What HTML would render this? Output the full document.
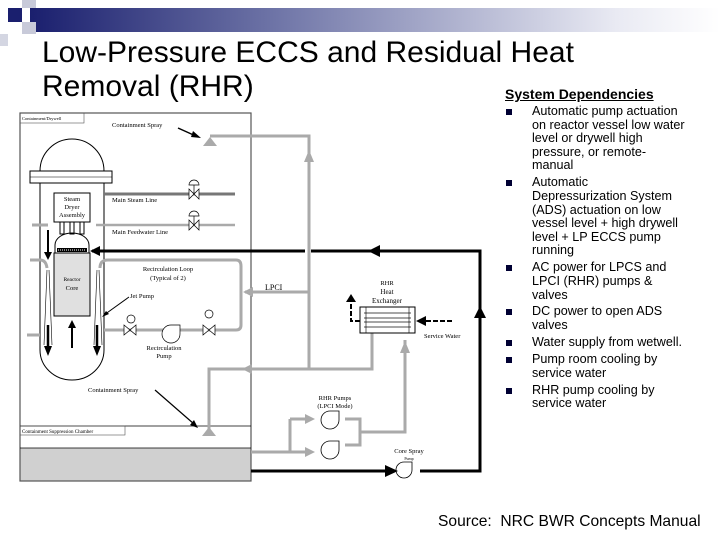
<!DOCTYPE html><html><head><style>
body{margin:0;width:720px;height:540px;background:#fff;position:relative;overflow:hidden;font-family:"Liberation Sans",sans-serif}
.t{position:absolute;left:42px;font-size:30px;color:#000;line-height:34px;white-space:nowrap}
ul{position:absolute;left:505px;top:105px;margin:0;padding:0;list-style:none;font-size:12.6px;line-height:13.6px;width:215px;white-space:nowrap}
li{position:relative;padding-left:27px;margin-bottom:3.4px}
li:before{content:"";position:absolute;left:1px;top:4px;width:6px;height:6px;background:#000033}
</style></head><body>
<div style="position:absolute;left:30px;top:8px;width:690px;height:24px;background:linear-gradient(90deg,#1a1f6e,#6d73a6 35%,#e9eaf3 85%,#fff)"></div>
<div style="position:absolute;left:8px;top:8px;width:14px;height:14px;background:#1a1f6e"></div>
<div style="position:absolute;left:22px;top:0;width:14px;height:8px;background:#c8cad9"></div>
<div style="position:absolute;left:22px;top:22px;width:14px;height:12px;background:#c8cad9"></div>
<div style="position:absolute;left:0;top:34px;width:8px;height:12px;background:#d4d6e2"></div>
<div class="t" style="top:36px">Low-Pressure ECCS and Residual Heat</div>
<div class="t" style="top:70px">Removal (RHR)</div>
<div style="position:absolute;left:505px;top:86px;font-size:14px;font-weight:bold;text-decoration:underline">System Dependencies</div>
<ul>
<li>Automatic pump actuation<br>on reactor vessel low water<br>level or drywell high<br>pressure, or remote-<br>manual</li>
<li>Automatic<br>Depressurization System<br>(ADS) actuation on low<br>vessel level + high drywell<br>level + LP ECCS pump<br>running</li>
<li>AC power for LPCS and<br>LPCI (RHR) pumps &amp;<br>valves</li>
<li>DC power to open ADS<br>valves</li>
<li>Water supply from wetwell.</li>
<li>Pump room cooling by<br>service water</li>
<li>RHR pump cooling by<br>service water</li>
</ul>
<div style="position:absolute;left:438px;top:513px;font-size:15.6px">Source:&nbsp; NRC BWR Concepts Manual</div>
<svg width="720" height="540" style="position:absolute;left:0;top:0" font-family="Liberation Serif" font-size="6.5">
<rect x="20" y="448" width="231" height="33" fill="#d0d0d0"/>
<rect x="20" y="113" width="231" height="368" fill="none" stroke="#555" stroke-width="1.2"/>
<line x1="20" y1="426" x2="251" y2="426" stroke="#000" stroke-width="0.8"/>
<line x1="20" y1="448" x2="251" y2="448" stroke="#000" stroke-width="0.8"/>
<rect x="20" y="113" width="64" height="10" fill="none" stroke="#555" stroke-width="0.6"/>
<text x="22" y="120" font-size="4.5">Containment/Drywell</text>
<rect x="20" y="426" width="105" height="9" fill="none" stroke="#555" stroke-width="0.6"/>
<text x="22" y="433" font-size="5">Containment Suppression Chamber</text>
<path d="M40 171 A32 32 0 0 1 104 171" fill="none" stroke="#000"/>
<rect x="30" y="171" width="82" height="12" fill="none" stroke="#000"/>
<line x1="30" y1="177" x2="112" y2="177" stroke="#000" stroke-width="0.5"/>
<path d="M40 183 V350 A32 30 0 0 0 104 350 V183" fill="none" stroke="#000"/>
<rect x="54" y="193" width="36" height="29" fill="none" stroke="#000"/>
<text x="72" y="201" text-anchor="middle">Steam</text><text x="72" y="209" text-anchor="middle">Dryer</text><text x="72" y="217" text-anchor="middle">Assembly</text>
<path d="M55 253 V245 A17 12 0 0 1 89 245 V253 Z" fill="#fff" stroke="#000"/>
<rect x="57" y="248" width="30" height="4" fill="#000"/><line x1="58" y1="250" x2="86" y2="250" stroke="#fff" stroke-dasharray="1 1"/>
<rect x="60" y="222" width="4" height="12" fill="none" stroke="#000"/><rect x="70" y="222" width="4" height="12" fill="none" stroke="#000"/><rect x="80" y="222" width="4" height="12" fill="none" stroke="#000"/>
<rect x="54" y="253" width="36" height="63" fill="#e0e0e0" stroke="#000"/>
<text x="72" y="281" text-anchor="middle" font-size="5.5">Reactor</text><text x="72" y="290" text-anchor="middle">Core</text>
<path d="M47 270 L44 345 M49 270 L52 345 M97 270 L94 345 M99 270 L102 345" stroke="#000" stroke-width="0.6"/>
<path d="M48 230 V255" stroke="#000" stroke-width="2"/><path d="M44 252 L48 260 L52 252Z"/>
<path d="M48 325 V348" stroke="#000" stroke-width="2.5"/><path d="M44 346 L48 356 L52 346Z"/>
<path d="M97 325 V348" stroke="#000" stroke-width="2.5"/><path d="M93 346 L97 356 L101 346Z"/>
<path d="M72 348 V325" stroke="#000" stroke-width="2"/><path d="M68 328 L72 320 L76 328Z"/>
<path d="M32 225 H48 M30 260 H40 Q46 260 47 268 M27 335 H40" stroke="#aaa" stroke-width="3" fill="none"/>
<line x1="104" y1="194" x2="235" y2="194" stroke="#777" stroke-width="3"/>
<line x1="96" y1="225" x2="235" y2="225" stroke="#aaa" stroke-width="2.5"/>
<g fill="#fff" stroke="#000" stroke-width="0.7">
<path d="M189 189 L199 199 V189 L189 199Z"/><path d="M189 185 A5 5 0 0 1 199 185Z"/><line x1="194" y1="185" x2="194" y2="194"/>
<path d="M189 220 L199 230 V220 L189 230Z"/><path d="M189 216 A5 5 0 0 1 199 216Z"/><line x1="194" y1="216" x2="194" y2="225"/>
</g>
<text x="112" y="202">Main Steam Line</text><text x="112" y="234">Main Feedwater Line</text>
<path d="M100 268 Q100 260 108 260 H236 Q241 260 241 266 V325 Q241 330 236 330 H104" fill="none" stroke="#aaa" stroke-width="3"/>
<g fill="#fff" stroke="#000" stroke-width="0.7">
<path d="M124 325 L136 335 V325 L124 335Z"/><circle cx="131" cy="319" r="4"/>
<path d="M203 325 L215 335 V325 L203 335Z"/><circle cx="209" cy="314" r="4"/>
<path d="M171 325 A9 9 0 1 0 180 334 V325 Z"/>
</g>
<text x="168" y="271" text-anchor="middle">Recirculation Loop</text><text x="168" y="280" text-anchor="middle">(Typical of 2)</text>
<text x="130" y="298">Jet Pump</text><path d="M129 297 L104 315" stroke="#000"/><path d="M102 317 l4 -6 l3 3z"/>
<text x="164" y="350" text-anchor="middle">Recirculation</text><text x="164" y="358" text-anchor="middle">Pump</text>
<text x="112" y="127">Containment Spray</text><path d="M178 128 L198 137" stroke="#000" stroke-width="1.5"/><path d="M201 138 l-8 -7 l-2 6z"/>
<text x="88" y="392">Containment Spray</text><path d="M155 390 L194 424" stroke="#000" stroke-width="1.2"/><path d="M198 428 l-8 -3 l4 -5z"/>
<g stroke="#aaa" stroke-width="3" fill="none">
<path d="M210 136 H309 V369 M245 292 H309 M209 436 V369 H372 V333 M251 452 H290 M290 419 V452 H305 M290 419 H305 M345 419 H360 V445 H345 M360 432 H405 V340"/>
</g>
<g fill="#aaa"><path d="M203 146 L210 137 L217 146Z"/><path d="M202 436 L209 427 L216 436Z"/>
<path d="M304 162 L309 150 L314 162Z"/><path d="M253 287 L243 292 L253 297Z"/>
<path d="M252 364 L242 369 L252 374Z"/><path d="M400 353 L405 341 L410 353Z"/>
<path d="M305 414 L315 419 L305 424Z"/><path d="M305 447 L315 452 L305 457Z"/></g>
<text x="265" y="290" font-size="8">LPCI</text>
<g fill="#fff" stroke="#000" stroke-width="0.8">
<path d="M330 411 A9 9 0 1 0 339 420 V411 Z"/><path d="M330 441 A9 9 0 1 0 339 450 V441 Z"/>
<path d="M404 462 A8 8 0 1 0 412 470 V462 Z"/>
</g>
<text x="335" y="400" text-anchor="middle">RHR Pumps</text><text x="335" y="408" text-anchor="middle">(LPCI Mode)</text>
<text x="409" y="453" text-anchor="middle">Core Spray</text><text x="409" y="460" text-anchor="middle" font-size="4">Pump</text>
<g stroke="#000" stroke-width="3" fill="none"><path d="M92 251 H305 M311 251 H480 V471 H420 M251 471 H395"/></g>
<path d="M100 246 L90 251 L100 256Z"/><path d="M380 245 L368 251 L380 257Z"/><path d="M474 318 L480 306 L486 318Z"/><path d="M385 465 L398 471 L385 477Z"/>
<rect x="360" y="307" width="55" height="26" fill="#fff" stroke="#000"/>
<g stroke="#888" stroke-width="1.5"><line x1="364" y1="313" x2="411" y2="313"/><line x1="364" y1="318" x2="411" y2="318"/><line x1="364" y1="322" x2="411" y2="322"/><line x1="364" y1="327" x2="411" y2="327"/></g>
<line x1="366" y1="307" x2="366" y2="333" stroke="#000" stroke-width="0.6"/><line x1="409" y1="307" x2="409" y2="333" stroke="#000" stroke-width="0.6"/>
<text x="387" y="285" text-anchor="middle">RHR</text><text x="387" y="294" text-anchor="middle" font-size="7">Heat</text><text x="387" y="303" text-anchor="middle" font-size="7">Exchanger</text>
<path d="M452 321 H420 M360 321 H351 V302" stroke="#000" stroke-width="2" stroke-dasharray="5 2" fill="none"/>
<path d="M426 316 L416 321 L426 326Z"/><path d="M346 302 L351 294 L356 302Z"/>
<text x="424" y="338">Service Water</text>
</svg>
</body></html>
